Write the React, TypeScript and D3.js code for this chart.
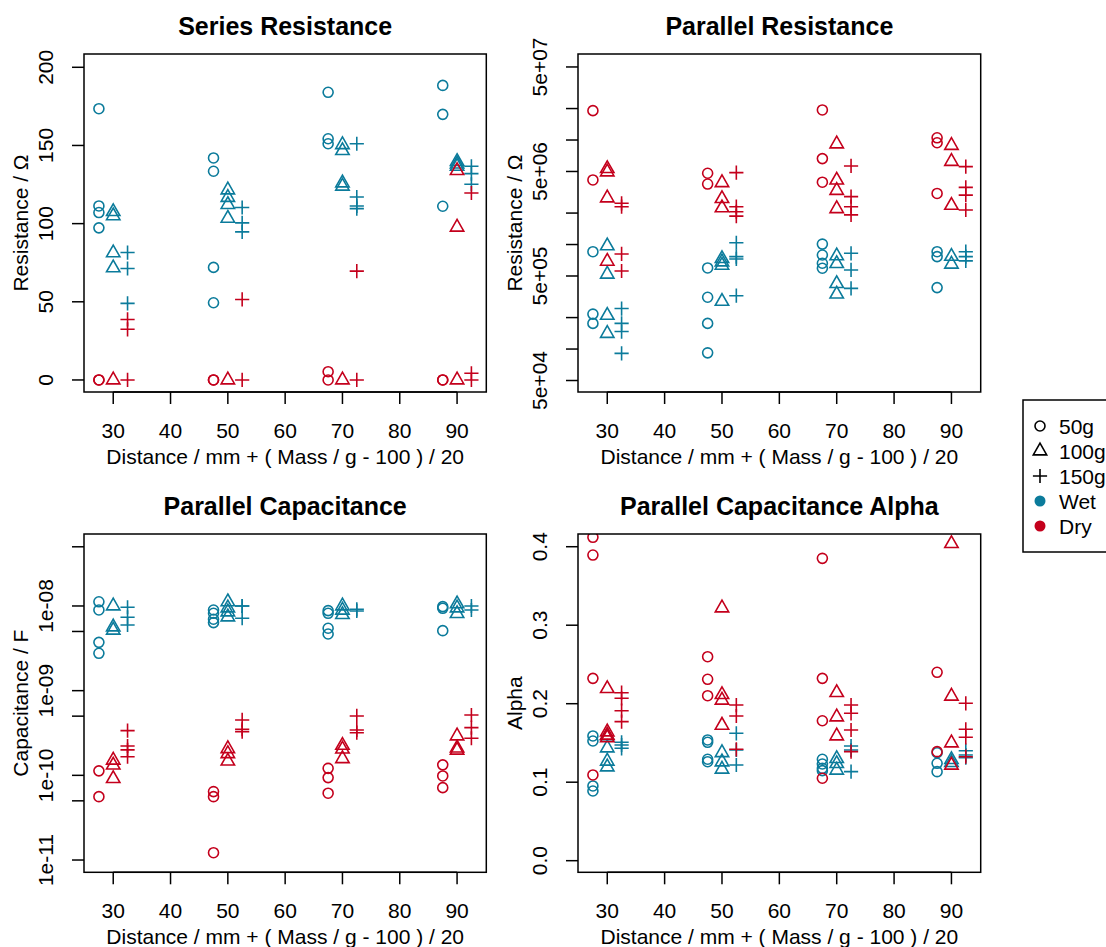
import React from "react";
import * as d3 from "d3";

// distances (mm) and masses (g); x = distance + (mass - 100) / 20
const distances = [30, 50, 70, 90];
const masses = [50, 100, 150];
const xTicks = [30, 40, 50, 60, 70, 80, 90];

// Series Resistance (ohm), one inner list per distance
const rsWet50 = [[173.5, 111.3, 107.1, 97.3], [142, 133.5, 72, 49.4], [184, 154.3, 151.1], [188.4, 169.9, 111.1]];
const rsWet100 = [[107.7, 105, 81.3, 71.7], [121.5, 116.7, 112.2, 103.4], [150.5, 146.7, 126, 123.9], [139.7, 138.1, 136.6]];
const rsWet150 = [[81.5, 71.3, 49], [110.3, 100.5, 94.7], [151.1, 117, 111.3, 109.6], [136.7, 132, 125.2]];
const rsDry50 = [[0, 0], [0, 0], [5.3, 0], [0, 0]];
const rsDry100 = [[0], [0], [0], [133.9, 97.7, 0]];
const rsDry150 = [[38.7, 32.4, 0], [51.5, 0], [69.6, 0], [119.6, 4.3, 0]];

// Parallel Resistance (ohm)
const rpWet50 = [[8.54e5, 2.16e5, 1.76e5], [5.97e5, 3.13e5, 1.76e5, 9.2e4], [1.01e6, 7.94e5, 6.62e5, 5.93e5], [8.54e5, 7.66e5, 3.87e5]];
const rpWet100 = [[9.7e5, 5.2e5, 2.1e5, 1.41e5], [7.33e5, 6.81e5, 6.33e5, 2.86e5], [7.78e5, 6.57e5, 4.23e5, 3.35e5], [7.7e5, 6.48e5]];
const rpWet150 = [[2.44e5, 1.76e5, 1.47e5, 9.1e4], [1.04e6, 7.66e5, 7.28e5, 3.24e5], [8.24e5, 5.71e5, 3.81e5], [8.54e5, 7.66e5, 6.97e5]];
const rpDry50 = [[1.91e7, 4.15e6], [4.81e6, 3.79e6], [1.94e7, 6.64e6, 3.95e6], [1.05e7, 9.42e6, 3.08e6]];
const rpDry100 = [[5.32e6, 4.95e6, 2.79e6, 6.91e5], [3.9e6, 2.75e6, 2.24e6], [9.16e6, 4.13e6, 3.29e6, 2.2e6], [8.87e6, 6.23e6, 2.37e6]];
const rpDry150 = [[2.48e6, 2.3e6, 8.13e5, 5.58e5], [4.88e6, 2.3e6, 2.06e6, 1.87e6], [5.65e6, 2.87e6, 2.3e6, 1.92e6], [5.56e6, 3.52e6, 2.97e6, 2.14e6]];

// Parallel Capacitance (F)
const cpWet50 = [[1.12e-8, 8.97e-9, 3.72e-9, 2.76e-9], [8.97e-9, 8.19e-9, 6.97e-9, 6.36e-9], [8.81e-9, 8.19e-9, 5.46e-9, 4.67e-9], [9.82e-9, 9.39e-9, 5.11e-9]];
const cpWet100 = [[1.0e-8, 5.65e-9, 5.17e-9], [1.12e-8, 9.47e-9, 8.5e-9, 7.42e-9], [1.0e-8, 8.9e-9, 7.9e-9], [1.06e-8, 9.47e-9, 8.12e-9]];
const cpWet150 = [[9.66e-9, 7.36e-9, 5.97e-9], [1e-8, 1e-8, 7.16e-9], [9.14e-9, 8.73e-9], [1e-8, 8.97e-9]];
const cpDry50 = [[1.13e-10, 5.6e-11], [6.43e-11, 5.6e-11, 1.22e-11], [1.21e-10, 9.4e-11, 6.15e-11], [1.33e-10, 9.84e-11, 7.16e-11]];
const cpDry100 = [[1.51e-10, 1.32e-10, 9.15e-11], [2.06e-10, 1.8e-10, 1.47e-10], [2.26e-10, 2.04e-10, 1.57e-10], [2.92e-10, 2.1e-10, 1.98e-10]];
const cpDry150 = [[3.37e-10, 2.22e-10, 2e-10, 1.66e-10], [4.51e-10, 3.5e-10, 3.28e-10], [5.03e-10, 3.43e-10, 3.19e-10], [5.16e-10, 3.66e-10, 2.74e-10]];

// Parallel Capacitance Alpha
const alWet50 = [[0.1589, 0.1525, 0.0952, 0.0888], [0.1538, 0.1508, 0.1292, 0.1261], [0.1292, 0.1232, 0.1177, 0.1147], [0.1376, 0.1241, 0.1134]];
const alWet100 = [[0.159, 0.1436, 0.1267, 0.1194], [0.1376, 0.1258, 0.1165], [0.13, 0.1236, 0.1152], [0.1287, 0.1249]];
const alWet150 = [[0.1508, 0.1474, 0.1432], [0.1623, 0.141, 0.1219], [0.1461, 0.141, 0.1134], [0.1401, 0.1346, 0.1312]];
const alDry50 = [[0.412, 0.3894, 0.2323, 0.1092], [0.2599, 0.2311, 0.2102], [0.3852, 0.2323, 0.1783, 0.105], [0.24, 0.1389]];
const alDry100 = [[0.2192, 0.164, 0.1598, 0.1567], [0.322, 0.2115, 0.2044, 0.1725], [0.2141, 0.1831, 0.1589], [0.4039, 0.2095, 0.15, 0.1216]];
const alDry150 = [[0.214, 0.2069, 0.1911, 0.1771], [0.1983, 0.1843, 0.1419], [0.1983, 0.1878, 0.1665, 0.1389], [0.2005, 0.1674, 0.1572, 0.1325]];

const legendLabels = ["50g", "100g", "150g", "Wet", "Dry"];

const WET = "#0b7b9b";
const DRY = "#c4001c";
const FONT = "'Liberation Sans', Arial, Helvetica, sans-serif";

const fmtExp = (v) => {
  const [m, e] = v.toExponential(0).split("e");
  const n = Math.abs(+e);
  return m + "e" + (+e < 0 ? "-" : "+") + (n < 10 ? "0" + n : "" + n);
};

function Marker({ kind, x, y, color }) {
  if (kind === 0) return <circle cx={x} cy={y} r={5} fill="none" stroke={color} strokeWidth={1.6} />;
  if (kind === 1)
    return <path d={`M${x},${y - 7.8}L${x + 6.7},${y + 3.9}L${x - 6.7},${y + 3.9}Z`} fill="none" stroke={color} strokeWidth={1.6} />;
  return <path d={`M${x - 7.1},${y}H${x + 7.1}M${x},${y - 7.1}V${y + 7.1}`} fill="none" stroke={color} strokeWidth={1.6} />;
}

function Panel({ id, box, title, yLabel, y, yTicks, yLabelled, fmt, wet, dry }) {
  const x = d3.scaleLinear().domain([24.9, 95.1]).range([box.l, box.r]);
  const pts = [];
  [[wet, WET], [dry, DRY]].forEach(([groups, color]) => {
    groups.forEach((g, mi) => {
      g.forEach((vals, di) => {
        vals.forEach((v, k) => {
          const xv = distances[di] + (masses[mi] - 100) / 20;
          pts.push(<Marker key={`${color}-${mi}-${di}-${k}`} kind={mi} x={x(xv)} y={y(v)} color={color} />);
        });
      });
    });
  });
  const cx = (box.l + box.r) / 2;
  const cy = (box.t + box.b) / 2;
  return (
    <g>
      <defs>
        <clipPath id={id}>
          <rect x={box.l} y={box.t} width={box.r - box.l} height={box.b - box.t} />
        </clipPath>
      </defs>
      <g clipPath={`url(#${id})`}>{pts}</g>
      <rect x={box.l} y={box.t} width={box.r - box.l} height={box.b - box.t} fill="none" stroke="#000" strokeWidth={1.5} />
      {/* x axis */}
      <line x1={x(xTicks[0])} x2={x(xTicks[xTicks.length - 1])} y1={box.b} y2={box.b} stroke="#000" strokeWidth={1.5} />
      {xTicks.map((t) => (
        <g key={t}>
          <line x1={x(t)} x2={x(t)} y1={box.b} y2={box.b + 12} stroke="#000" strokeWidth={1.5} />
          <text x={x(t)} y={box.b + 46} textAnchor="middle" fontSize={21}>{t}</text>
        </g>
      ))}
      <text x={cx} y={box.b + 72} textAnchor="middle" fontSize={21}>Distance / mm + ( Mass / g - 100 ) / 20</text>
      {/* y axis */}
      {yTicks.map((t) => (
        <g key={t}>
          <line x1={box.l - 12} x2={box.l} y1={y(t)} y2={y(t)} stroke="#000" strokeWidth={1.5} />
          {yLabelled.includes(t) && (
            <text transform={`translate(${box.l - 31},${y(t)}) rotate(-90)`} textAnchor="middle" fontSize={21}>{fmt(t)}</text>
          )}
        </g>
      ))}
      <text transform={`translate(${box.l - 56},${cy}) rotate(-90)`} textAnchor="middle" fontSize={21}>{yLabel}</text>
      <text x={cx} y={box.t - 19} textAnchor="middle" fontSize={25} fontWeight="bold">{title}</text>
    </g>
  );
}

export default function App() {
  const b1 = { l: 84, r: 486.3, t: 54, b: 392 };
  const b2 = { l: 578, r: 980.7, t: 54, b: 392 };
  const b3 = { l: 84, r: 486.3, t: 534, b: 872.3 };
  const b4 = { l: 578, r: 980.7, t: 534, b: 872.3 };

  const yRs = d3.scaleLinear().domain([-7.7, 208.5]).range([b1.b, b1.t]);
  const yRp = d3.scaleLog().domain([Math.pow(10, 4.589), Math.pow(10, 7.823)]).range([b2.b, b2.t]);
  const yCp = d3.scaleLog().domain([Math.pow(10, -11.145), Math.pow(10, -7.15)]).range([b3.b, b3.t]);
  const yAl = d3.scaleLinear().domain([-0.0148, 0.4162]).range([b4.b, b4.t]);

  const rpTicks = [5e4, 1e5, 2e5, 5e5, 1e6, 2e6, 5e6, 1e7, 2e7, 5e7];
  const cpTicks = [1e-11, 5e-11, 1e-10, 5e-10, 1e-9, 5e-9, 1e-8, 5e-8];

  const legY = d3.scalePoint().domain(legendLabels).range([426, 526]);

  return (
    <svg width={1106} height={947} style={{ position: "absolute", left: 0, top: 0, background: "#fff" }} fontFamily={FONT}>
      <rect width={1106} height={947} fill="#fff" />
      <Panel id="c1" box={b1} title="Series Resistance" yLabel="Resistance / Ω" y={yRs}
        yTicks={[0, 50, 100, 150, 200]} yLabelled={[0, 50, 100, 150, 200]} fmt={(v) => String(v)}
        wet={[rsWet50, rsWet100, rsWet150]} dry={[rsDry50, rsDry100, rsDry150]} />
      <Panel id="c2" box={b2} title="Parallel Resistance" yLabel="Resistance / Ω" y={yRp}
        yTicks={rpTicks} yLabelled={[5e4, 5e5, 5e6, 5e7]} fmt={fmtExp}
        wet={[rpWet50, rpWet100, rpWet150]} dry={[rpDry50, rpDry100, rpDry150]} />
      <Panel id="c3" box={b3} title="Parallel Capacitance" yLabel="Capacitance / F" y={yCp}
        yTicks={cpTicks} yLabelled={[1e-11, 1e-10, 1e-9, 1e-8]} fmt={fmtExp}
        wet={[cpWet50, cpWet100, cpWet150]} dry={[cpDry50, cpDry100, cpDry150]} />
      <Panel id="c4" box={b4} title="Parallel Capacitance Alpha" yLabel="Alpha" y={yAl}
        yTicks={[0, 0.1, 0.2, 0.3, 0.4]} yLabelled={[0, 0.1, 0.2, 0.3, 0.4]} fmt={(v) => v.toFixed(1)}
        wet={[alWet50, alWet100, alWet150]} dry={[alDry50, alDry100, alDry150]} />
      {/* legend */}
      <rect x={1023} y={400} width={120} height={152} fill="#fff" stroke="#000" strokeWidth={1.5} />
      {legendLabels.map((lab, i) => (
        <g key={lab}>
          {i < 3 ? (
            <Marker kind={i} x={1040} y={legY(lab)} color="#000" />
          ) : (
            <circle cx={1040} cy={legY(lab)} r={5.5} fill={i === 3 ? WET : DRY} />
          )}
          <text x={1059} y={legY(lab) + 7.5} fontSize={21}>{lab}</text>
        </g>
      ))}
    </svg>
  );
}
